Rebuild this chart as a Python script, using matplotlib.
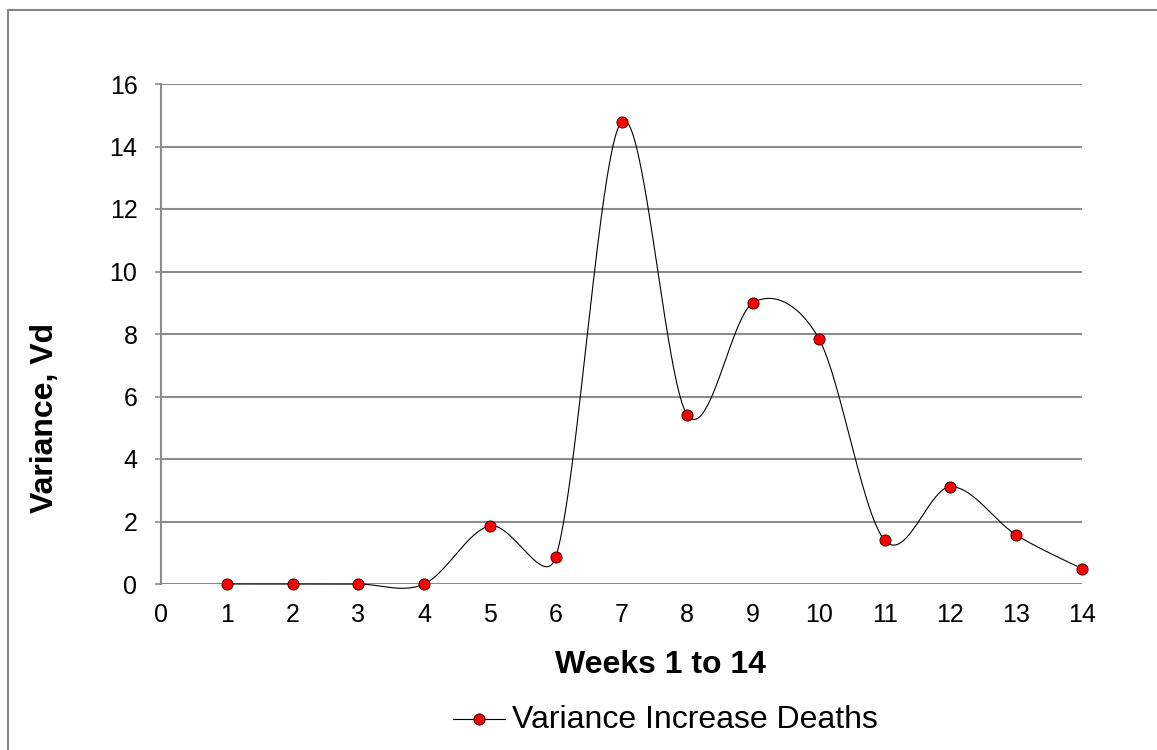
import numpy as np
import matplotlib
matplotlib.use("Agg")
import matplotlib.pyplot as plt
from matplotlib.lines import Line2D

weeks = [1, 2, 3, 4, 5, 6, 7, 8, 9, 10, 11, 12, 13, 14]
variance = [0.0, 0.0, 0.0, 0.0, 1.86, 0.86, 14.79, 5.41, 9.0, 7.85, 1.40, 3.11, 1.57, 0.49]
series_name = "Variance Increase Deaths"
x_label = "Weeks 1 to 14"
y_label = "Variance, Vd"

plt.rcParams['font.family'] = ['Liberation Sans', 'DejaVu Sans']

W, H = 1157, 750
fig = plt.figure(figsize=(W / 100, H / 100), dpi=100)

def fx(px):
    return px / W

def fy(py):
    return 1 - py / H

x0, x1, y0, y1 = 161, 1082, 84, 584
ax = fig.add_axes([fx(x0), fy(y1), fx(x1) - fx(x0), (y1 - y0) / H])
ax.set_xlim(0, 14)
ax.set_ylim(0, 16)


def excel_smooth(xs, ys, n=50):
    # Excel-like smoothed line: Catmull-Rom Bezier with tangent limiting (in pixel space)
    P = ax.transData.transform(np.column_stack([xs, ys]).astype(float))
    Pe = np.vstack([P[0], P, P[-1]])
    out = []
    t = np.linspace(0, 1, n)[:, None]
    for i in range(1, len(Pe) - 2):
        p0, p1, p2, p3 = Pe[i - 1], Pe[i], Pe[i + 1], Pe[i + 2]
        d12 = np.hypot(*(p2 - p1))
        d02 = np.hypot(*(p2 - p0))
        d13 = np.hypot(*(p3 - p1))
        f1 = 1 / 6 if d02 / 6 < d12 / 2 or d02 == 0 else d12 / (2 * d02)
        f2 = 1 / 6 if d13 / 6 < d12 / 2 or d13 == 0 else d12 / (2 * d13)
        c1 = p1 + (p2 - p0) * f1
        c2 = p2 - (p3 - p1) * f2
        seg = ((1 - t) ** 3) * p1 + 3 * ((1 - t) ** 2) * t * c1 + 3 * (1 - t) * t ** 2 * c2 + t ** 3 * p2
        out.append(seg if i == 1 else seg[1:])
    pts = np.vstack(out)
    return ax.transData.inverted().transform(pts)

curve = excel_smooth(weeks, variance)
ax.plot(curve[:, 0], curve[:, 1], color='black', lw=0.8, zorder=3, clip_on=False)
ax.plot(weeks, variance, linestyle='none', marker='o', ms=8, mfc='#ff0000', mec='#400000',
        mew=0.7, zorder=4, clip_on=False)

ax.set_xticks(range(0, 15))
ax.set_yticks(range(0, 17, 2))
ax.yaxis.grid(True, color='#8c8c8c', lw=1.5)
ax.set_axisbelow(True)
for s in ['top', 'right', 'bottom']:
    ax.spines[s].set_visible(False)
ax.spines['left'].set_color('#8c8c8c')
ax.spines['left'].set_linewidth(1.5)
ax.tick_params(axis='y', length=4, color='#8c8c8c', width=1.2, pad=13, labelsize=18)
ax.tick_params(axis='x', length=0, pad=14, labelsize=18)

fig.text(fx(660), fy(673), x_label, fontsize=23, fontweight='bold', ha='center', va='baseline')
fig.text(fx(45), fy(418), y_label, fontsize=23, fontweight='bold', ha='center', va='center',
         rotation=90)

# legend
fig.add_artist(Line2D([fx(453), fx(505)], [fy(719), fy(719)], color='black', lw=0.8))
fig.add_artist(Line2D([fx(479)], [fy(719)], marker='o', ms=8, mfc='#ff0000', mec='#400000',
                      mew=0.7, linestyle='none'))
fig.text(fx(512), fy(728), series_name, fontsize=23, ha='left', va='baseline')

# outer chart frame
fig.add_artist(Line2D([fx(8), fx(8)], [fy(10), 0], color='#868686', lw=1.5))
fig.add_artist(Line2D([fx(8), 1], [fy(10), fy(10)], color='#868686', lw=1.5))

fig.savefig("out.png", dpi=100)
